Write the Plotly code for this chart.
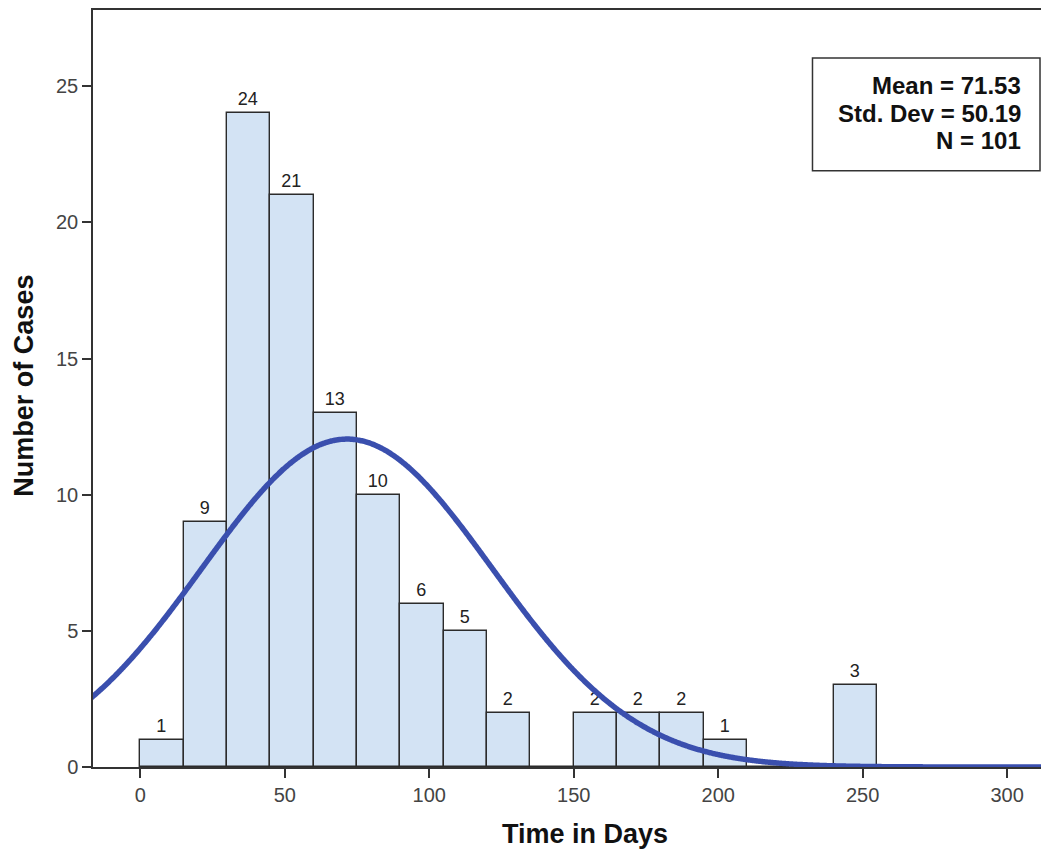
import numpy as np
import plotly.graph_objects as go

# Data
bin_starts = [0, 15, 30, 45, 60, 75, 90, 105, 120, 135, 150, 165, 180, 195, 210, 225, 240]
counts     = [1, 9, 24, 21, 13, 10, 6, 5, 2, 0, 2, 2, 2, 1, 0, 0, 3]
bin_width = 15
mean_val = 71.53
std_val = 50.19
n_val = 101
x_ticks = [0, 50, 100, 150, 200, 250, 300]
y_ticks = [0, 5, 10, 15, 20, 25]

centers = [b + bin_width / 2 for b in bin_starts]
labels = [str(c) if c > 0 else "" for c in counts]

# Normal curve fitted from the displayed mean / SD / N
xc = np.linspace(-17, 315, 600)
yc = n_val * bin_width / (std_val * np.sqrt(2 * np.pi)) * np.exp(-0.5 * ((xc - mean_val) / std_val) ** 2)

fig = go.Figure()
fig.add_trace(go.Bar(
    x=centers, y=counts, width=bin_width,
    marker=dict(color="#D3E3F4", line=dict(color="#2b2b2b", width=1.4)),
    text=labels, textposition="outside", constraintext="none",
    textfont=dict(family="Liberation Sans", size=18, color="#222222"),
    cliponaxis=False, showlegend=False, hoverinfo="skip",
))
fig.add_trace(go.Scatter(
    x=xc, y=yc, mode="lines",
    line=dict(color="#3A4FAE", width=5.5, shape="spline"),
    showlegend=False, hoverinfo="skip",
))

# page offset (body margin) compensation
OFF = 8
PL, PT, PR, PB = 93, 9, 1049, 767   # plot area in page pixels
FW, FH = 1049 - OFF, 850 - OFF
pw = PR - PL
ph = PB - PT

def px(x):
    return (x - PL) / pw

def py(y):
    return (PB - y) / ph

fig.update_layout(
    width=FW, height=FH,
    margin=dict(l=PL - OFF, r=0, t=PT - OFF, b=FH - (PB - OFF)),
    plot_bgcolor="white", paper_bgcolor="white",
    bargap=0,
    font=dict(family="Liberation Sans", color="#444444"),
    xaxis=dict(
        range=[-16.4, 313.8], tickvals=x_ticks, ticktext=[str(v) for v in x_ticks],
        ticks="outside", ticklen=9, tickwidth=1.5, tickcolor="#333333",
        showline=True, linecolor="#333333", linewidth=1.5, mirror=True,
        showgrid=False, zeroline=False,
        tickfont=dict(family="Liberation Sans", size=20, color="#444444"),
    ),
    yaxis=dict(
        range=[0, 27.8], tickvals=y_ticks, ticktext=[str(v) for v in y_ticks],
        ticks="outside", ticklen=9, tickwidth=1.5, tickcolor="#333333",
        showline=True, linecolor="#333333", linewidth=1.5, mirror=True,
        showgrid=False, zeroline=False,
        tickfont=dict(family="Liberation Sans", size=20, color="#444444"),
    ),
    shapes=[dict(
        type="rect", xref="paper", yref="paper",
        x0=px(814), x1=px(1042), y0=py(170), y1=py(57),
        line=dict(color="#333333", width=1.5), fillcolor="white",
    )],
)

stat_lines = [f"Mean = {mean_val:.2f}", f"Std. Dev = {std_val:.2f}", f"N = {n_val}"]
for i, s in enumerate(stat_lines):
    fig.add_annotation(
        text=f"<b>{s}</b>", xref="paper", yref="paper",
        x=px(1025), y=py(85 + 27.5 * i), xanchor="right", yanchor="middle",
        showarrow=False, font=dict(family="Liberation Sans", size=24, color="#111111"),
    )

fig.add_annotation(
    text="<b>Time in Days</b>", xref="paper", yref="paper",
    x=px(586), y=py(834), xanchor="center", yanchor="middle",
    showarrow=False, font=dict(family="Liberation Sans", size=27, color="#111111"),
)
fig.add_annotation(
    text="<b>Number of Cases</b>", xref="paper", yref="paper",
    x=px(23), y=py(385), xanchor="center", yanchor="middle", textangle=-90,
    showarrow=False, font=dict(family="Liberation Sans", size=27, color="#111111"),
)

fig.write_html("out.html")
